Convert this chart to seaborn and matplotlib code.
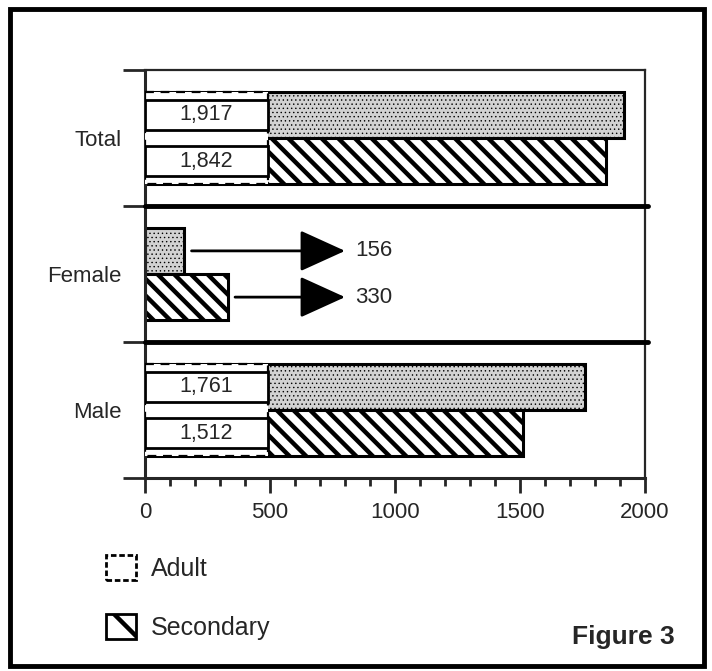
import seaborn as sns
import matplotlib.pyplot as plt
import pandas as pd
from matplotlib.patches import Rectangle, Patch
from matplotlib.ticker import MultipleLocator, FixedLocator

# data
groups = ["Total", "Female", "Male"]
adult = [1917, 156, 1761]
secondary = [1842, 330, 1512]
levels = ["Adult", "Secondary"]

df = pd.DataFrame({
    "group": groups * 2,
    "count": adult + secondary,
    "level": ["Adult"] * 3 + ["Secondary"] * 3,
})

sns.set_style("white")
plt.rcParams["font.family"] = ["Liberation Sans", "DejaVu Sans"]
plt.rcParams["hatch.linewidth"] = 3.2

fig = plt.figure(figsize=(7.12, 6.71), dpi=100)
ax = fig.add_axes([0.2037, 0.2876, 0.7023, 0.6081])

sns.barplot(data=df, y="group", x="count", hue="level", hue_order=levels,
            order=groups, orient="h", width=0.68, dodge=True,
            palette={"Adult": "#d2d2d2", "Secondary": "white"},
            edgecolor="black", linewidth=2.2, legend=False, ax=ax,
            saturation=1)

# patterns
for bar in ax.containers[0]:
    bar.set_hatch("....")
    if hasattr(bar, "set_hatch_linewidth"):
        bar.set_hatch_linewidth(0.5)
for bar in ax.containers[1]:
    bar.set_hatch("\\\\")

ax.set_xlim(0, 2000)
ax.set_ylim(2.5, -0.5)
ax.xaxis.set_major_locator(MultipleLocator(500))
ax.xaxis.set_minor_locator(MultipleLocator(100))
ax.yaxis.set_minor_locator(FixedLocator([-0.5, 0.5, 1.5, 2.5]))
ax.tick_params(axis="x", which="major", direction="out", length=11, width=2,
               labelsize=16, pad=6, bottom=True)
ax.tick_params(axis="x", which="minor", direction="out", length=6, width=2,
               bottom=True)
ax.tick_params(axis="y", which="major", length=0, labelsize=16, pad=17)
ax.tick_params(axis="y", which="minor", direction="out", length=16, width=2,
               left=True)
ax.set_xlabel("")
ax.set_ylabel("")
for side in ["left", "bottom"]:
    ax.spines[side].set_linewidth(2.2)
for side in ["top", "right"]:
    ax.spines[side].set_linewidth(1.6)

for yb in [0.5, 1.5]:
    ax.axhline(yb, xmin=0, xmax=1.006, color="black", lw=3.5, clip_on=False,
               zorder=5)

# value boxes / arrows
box_w = 490
for i, g in enumerate(groups):
    a_bar = ax.containers[0][i]
    s_bar = ax.containers[1][i]
    if g == "Female":
        for bar, v in [(a_bar, adult[i]), (s_bar, secondary[i])]:
            yc = bar.get_y() + bar.get_height() / 2
            ax.annotate("", xy=(800, yc), xytext=(v + 30, yc),
                        arrowprops=dict(arrowstyle="-|>,head_length=1.1,head_width=0.5",
                                        mutation_scale=26, lw=2, color="black",
                                        shrinkA=0, shrinkB=0))
            ax.text(840, yc, f"{v:,}", va="center", ha="left", fontsize=16)
        continue
    top = min(a_bar.get_y(), s_bar.get_y())
    h_all = a_bar.get_height() + s_bar.get_height()
    ax.add_patch(Rectangle((0, top), box_w, h_all, facecolor="white",
                           edgecolor="black", lw=1.6, ls=(0, (4, 3)), zorder=3))
    for bar, v in [(a_bar, adult[i]), (s_bar, secondary[i])]:
        h = bar.get_height()
        ax.add_patch(Rectangle((0, bar.get_y() + 0.17 * h), box_w, 0.66 * h,
                               facecolor="white", edgecolor="black", lw=2,
                               zorder=4))
        ax.text(box_w / 2, bar.get_y() + h / 2, f"{v:,}", ha="center",
                va="center", fontsize=15.5, zorder=6)

# legend
handles = [Patch(facecolor="white", edgecolor="black", lw=2, ls=(0, (2, 1))),
           Patch(facecolor="white", edgecolor="black", lw=2, hatch="\\")]
fig.legend(handles, levels, loc="upper left", bbox_to_anchor=(0.135, 0.188),
           frameon=False, fontsize=18, handlelength=1.2, handleheight=1.2,
           handletextpad=0.6, labelspacing=1.3, borderaxespad=0)

fig.text(0.948, 0.04, "Figure 3", ha="right", va="baseline", fontsize=19,
         fontweight="bold")

fig.add_artist(Rectangle((9.5 / 712, 5 / 671), 694.5 / 712, 657 / 671,
                         transform=fig.transFigure, fill=False, lw=3.5,
                         edgecolor="black"))

fig.savefig("out.png", dpi=100)
